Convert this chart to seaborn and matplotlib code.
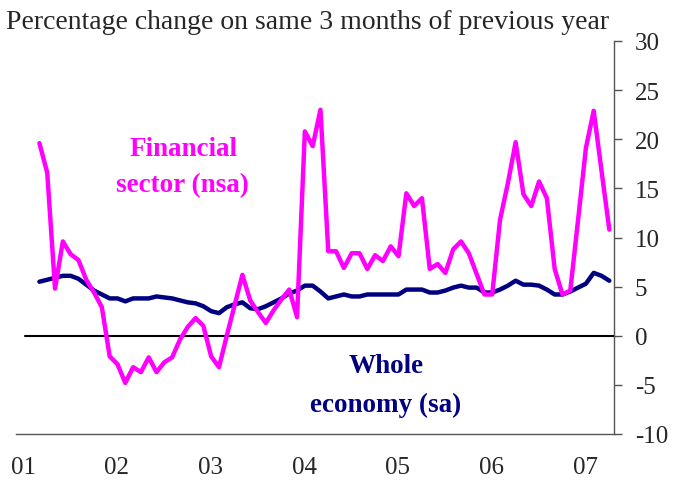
import matplotlib
matplotlib.use("Agg")
import matplotlib.pyplot as plt
import seaborn as sns
import pandas as pd

# monthly observations, Apr 2001 .. May 2007
months = pd.period_range("2001-04", "2007-05", freq="M")

financial = [19.6, 16.6, 4.8, 9.6, 8.3, 7.7, 5.7, 4.4, 2.9, -2.1, -2.9, -4.8,
             -3.2, -3.7, -2.2, -3.7, -2.7, -2.2, -0.4, 0.9, 1.8, 1.0, -2.1, -3.2,
             0.0, 3.1, 6.2, 3.6, 2.4, 1.3, 2.6, 3.7, 4.7, 1.9, 20.8, 19.3,
             23.0, 8.6, 8.6, 6.9, 8.4, 8.4, 6.8, 8.2, 7.6, 9.1, 8.1, 14.5,
             13.2, 14.0, 6.8, 7.3, 6.4, 8.8, 9.6, 8.4, 6.3, 4.2, 4.2, 11.8,
             15.5, 19.7, 14.4, 13.2, 15.7, 14.0, 6.8, 4.2, 4.6, 11.8, 19.1, 22.9,
             16.8, 10.8]

whole = [5.5, 5.7, 5.9, 6.1, 6.1, 5.8, 5.2, 4.6, 4.2, 3.8, 3.8, 3.5,
         3.8, 3.8, 3.8, 4.0, 3.9, 3.8, 3.6, 3.4, 3.3, 3.0, 2.5, 2.3,
         2.9, 3.2, 3.4, 2.8, 2.7, 3.0, 3.4, 3.8, 4.3, 4.6, 5.1, 5.1,
         4.5, 3.8, 4.0, 4.2, 4.0, 4.0, 4.2, 4.2, 4.2, 4.2, 4.2, 4.7,
         4.7, 4.7, 4.4, 4.4, 4.6, 4.9, 5.1, 4.9, 4.9, 4.4, 4.4, 4.7,
         5.1, 5.6, 5.2, 5.2, 5.1, 4.7, 4.2, 4.2, 4.5, 4.9, 5.3, 6.4,
         6.1, 5.6]

year_labels = ["01", "02", "03", "04", "05", "06", "07"]
y_ticks = [-10, -5, 0, 5, 10, 15, 20, 25, 30]

# month index counted from Jan 2001
t = [(p.year - 2001) * 12 + p.month - 1 for p in months]
df = pd.DataFrame({"t": t, "financial": financial, "whole": whole})

sns.set_style("white")
plt.rcParams["font.family"] = ["Liberation Serif", "DejaVu Serif"]
plt.rcParams["axes.unicode_minus"] = False

fig = plt.figure(figsize=(6.84, 4.81), dpi=100)
ax = fig.add_axes([16 / 684, 1 - 435 / 481, (614 - 16) / 684, (435 - 42) / 481])

ax.axhline(0, xmin=0.015, xmax=1, color="black", lw=1.5, zorder=1)
sns.lineplot(data=df, x="t", y="whole", color="#000080", lw=3.2, ax=ax, zorder=3)
sns.lineplot(data=df, x="t", y="financial", color="#FF00FF", lw=3.2, ax=ax, zorder=4)

ax.set_xlim(0, 76.6)
ax.set_ylim(-10, 30)

# y axis on the right
ax.yaxis.tick_right()
ax.set_yticks(y_ticks)
ax.set_yticklabels([str(v) for v in y_ticks])
ax.tick_params(axis="y", direction="out", length=6, width=1, color="#555555",
               labelsize=18, pad=9, right=True, left=False)

# year ticks at Jan, labels shifted a little right
ax.set_xticks([12 * i for i in range(7)])
ax.set_xticklabels([])
ax.set_xticks([12 * i + 0.9 for i in range(7)], minor=True)
ax.set_xticklabels(year_labels, minor=True)
ax.tick_params(axis="x", which="major", direction="in", length=7, width=1, color="#555555")
ax.tick_params(axis="x", which="minor", length=0, labelsize=18, pad=15.5)

for s in ["left", "top"]:
    ax.spines[s].set_visible(False)
for s in ["right", "bottom"]:
    ax.spines[s].set_color("#555555")
    ax.spines[s].set_linewidth(1)
ax.set_xlabel("")
ax.set_ylabel("")

fig.text(6 / 684, 1 - 29 / 481, "Percentage change on same 3 months of previous year",
         fontsize=20, ha="left", va="baseline")

fig.text(184 / 684, 1 - 150 / 481, "Financial", color="#FF00FF", fontsize=19.5,
         fontweight="bold", ha="center", va="center")
fig.text(182 / 684, 1 - 186 / 481, "sector (nsa)", color="#FF00FF", fontsize=19.5,
         fontweight="bold", ha="center", va="center")
fig.text(386 / 684, 1 - 367 / 481, "Whole", color="#000080", fontsize=19.5,
         fontweight="bold", ha="center", va="center")
fig.text(386 / 684, 1 - 405 / 481, "economy (sa)", color="#000080", fontsize=19.5,
         fontweight="bold", ha="center", va="center")

fig.savefig("out.png", dpi=100)
